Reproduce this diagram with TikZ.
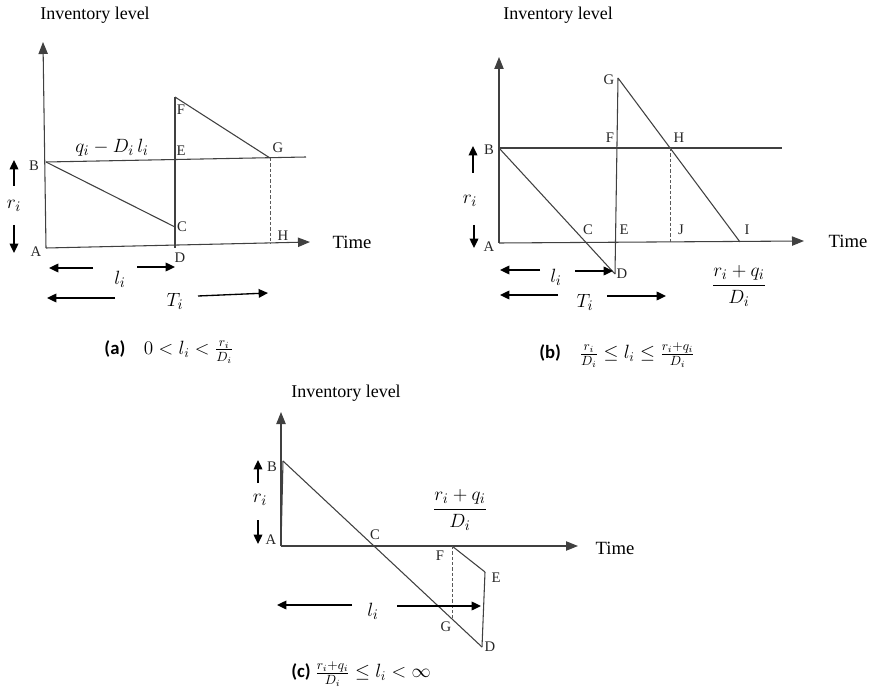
\documentclass[tikz,border=0pt]{standalone}
\usepackage{amsmath}
\usepackage{fontspec}
\setmainfont{Liberation Serif}
\newfontfamily\capfont{Carlito}
\usetikzlibrary{arrows.meta}
\begin{document}
\begin{tikzpicture}[x=0.75pt,y=-0.75pt,
  ln/.style={draw=black!75, line width=0.8pt},
  ax/.style={ln, -{Triangle[length=9pt,width=7pt]}},
  dim/.style={draw=black, line width=1pt, -{Triangle[length=7pt,width=6.5pt]}},
  dsh/.style={draw=black!65, line width=0.6pt, dash pattern=on 2.5pt off 1.5pt},
  pt/.style={font=\fontsize{11}{12}\selectfont, inner sep=0pt, text=black!85},
  ttl/.style={font=\fontsize{13.5}{15}\selectfont, inner sep=0pt},
  tim/.style={font=\fontsize{14}{15}\selectfont, inner sep=0pt},
  mth/.style={font=\fontsize{15}{17}\selectfont, inner sep=0pt},
  captext/.style={font=\fontsize{14}{16}\selectfont, inner sep=0pt}]
\useasboundingbox (0,0) rectangle (874,695);

% ================= panel (a) =================
\coordinate (aA) at (46,248);
\coordinate (aY) at (43,42);
\coordinate (aT) at (310,242);
\coordinate (aB) at (46,162);
\coordinate (aBe) at (306,157);
\coordinate (aC) at (175,227);
\coordinate (aD) at (175,248);
\coordinate (aF) at (175,97);
\coordinate (aG) at (270,158);
\coordinate (aH) at (270,244);
\draw[ax] (aA) -- (aY);
\draw[ax] (aA) -- (aT);
\draw[ln] (aB) -- (aBe);
\draw[ln] (aB) -- (aC);
\draw[ln] (aD) -- (aF);
\draw[ln] (aF) -- (aG);
\draw[dsh] (aG) -- (aH);
\node[ttl] (aTitle) at (95,15) {Inventory level};
\node[tim] (aTime) at (352,242) {Time};
\node[pt] (aLA) at (36,252) {A};
\node[pt] (aLB) at (34,166) {B};
\node[pt] (aLC) at (182,227) {C};
\node[pt] (aLD) at (180,258) {D};
\node[pt] (aLE) at (181,151) {E};
\node[pt] (aLF) at (181,110) {F};
\node[pt] (aLG) at (278,148) {G};
\node[pt] (aLH) at (283,236) {H};
\node[mth] (aQ) at (112,148) {$q_i - D_i\, l_i$};
% r_i
\coordinate (ar1) at (14,186); \coordinate (ar2) at (14,160);
\coordinate (ar3) at (14,225); \coordinate (ar4) at (14,253);
\draw[dim] (ar1) -- (ar2);
\draw[dim] (ar3) -- (ar4);
\node[mth] (aR) at (14,206) {$r_i$};
% l_i
\coordinate (al1) at (93,268); \coordinate (al2) at (49,268);
\coordinate (al3) at (137,267); \coordinate (al4) at (175,267);
\draw[dim] (al1) -- (al2);
\draw[dim] (al3) -- (al4);
\node[mth] (aL) at (120,279) {$l_i$};
% T_i
\coordinate (at1) at (115,298); \coordinate (at2) at (47,298);
\coordinate (at3) at (198,296); \coordinate (at4) at (268,293);
\draw[dim] (at1) -- (at2);
\draw[dim] (at3) -- (at4);
\node[mth] (aTi) at (175,301) {$T_i$};
\node[captext] (aCap) at (169,352) {{\capfont\bfseries (a)}\quad $0 < l_i < \frac{r_i}{D_i}$};

% ================= panel (b) =================
\coordinate (bA) at (499,243);
\coordinate (bY) at (499,57);
\coordinate (bT) at (804,241);
\coordinate (bB) at (499,148);
\coordinate (bBe) at (782,148);
\coordinate (bD) at (615,274);
\coordinate (bG) at (618,78);
\coordinate (bI) at (740,242);
\coordinate (bH) at (670,148);
\coordinate (bJ) at (670,243);
\draw[ax] (bA) -- (bY);
\draw[ax] (bA) -- (bT);
\draw[ln] (bB) -- (bBe);
\draw[ln] (bB) -- (bD);
\draw[ln] (bD) -- (bG);
\draw[ln] (bG) -- (bI);
\draw[dsh] (bH) -- (bJ);
\node[ttl] (bTitle) at (558,15) {Inventory level};
\node[tim] (bTime) at (848,241) {Time};
\node[pt] (bLA) at (489,247) {A};
\node[pt] (bLB) at (489,150) {B};
\node[pt] (bLC) at (588,230) {C};
\node[pt] (bLD) at (622,274) {D};
\node[pt] (bLE) at (624,230) {E};
\node[pt] (bLF) at (610,138) {F};
\node[pt] (bLG) at (609,80) {G};
\node[pt] (bLH) at (679,138) {H};
\node[pt] (bLI) at (747,230) {I};
\node[pt] (bLJ) at (681,230) {J};
\node[mth] (bFr) at (739,286) {$\dfrac{r_i + q_i}{D_i}$};
\coordinate (br1) at (473,173); \coordinate (br2) at (473,146);
\coordinate (br3) at (474,225); \coordinate (br4) at (474,248);
\draw[dim] (br1) -- (br2);
\draw[dim] (br3) -- (br4);
\node[mth] (bR) at (470,201) {$r_i$};
\coordinate (bl1) at (540,270); \coordinate (bl2) at (500,270);
\coordinate (bl3) at (575,271); \coordinate (bl4) at (613,271);
\draw[dim] (bl1) -- (bl2);
\draw[dim] (bl3) -- (bl4);
\node[mth] (bL) at (556,277) {$l_i$};
\coordinate (bt1) at (558,295); \coordinate (bt2) at (500,295);
\coordinate (bt3) at (607,296); \coordinate (bt4) at (666,296);
\draw[dim] (bt1) -- (bt2);
\draw[dim] (bt3) -- (bt4);
\node[mth] (bTi) at (585,302) {$T_i$};
\node[captext] (bCap) at (617,355) {{\capfont\bfseries (b)}\quad $\frac{r_i}{D_i} \le l_i \le \frac{r_i + q_i}{D_i}$};

% ================= panel (c) =================
\coordinate (cA) at (281,546);
\coordinate (cY) at (281,412);
\coordinate (cT) at (578,546);
\coordinate (cB) at (283,461);
\coordinate (cD) at (482,647);
\coordinate (cF) at (452,546);
\coordinate (cE) at (485,572);
\coordinate (cG) at (452,618);
\draw[ax] (cA) -- (cY);
\draw[ax] (cA) -- (cT);
\draw[ln] (cA) -- (cB);
\draw[ln] (cB) -- (cD);
\draw[ln] (cF) -- (cE);
\draw[ln] (cE) -- (cD);
\draw[dsh] (cF) -- (cG);
\node[ttl] (cTitle) at (346,393) {Inventory level};
\node[tim] (cTime) at (615,548) {Time};
\node[pt] (cLA) at (271,540) {A};
\node[pt] (cLB) at (272,467) {B};
\node[pt] (cLC) at (375,535) {C};
\node[pt] (cLD) at (490,647) {D};
\node[pt] (cLE) at (496,578) {E};
\node[pt] (cLF) at (440,556) {F};
\node[pt] (cLG) at (446,627) {G};
\node[mth] (cFr) at (460,510) {$\dfrac{r_i + q_i}{D_i}$};
\coordinate (cr1) at (258,483); \coordinate (cr2) at (258,460);
\coordinate (cr3) at (258,520); \coordinate (cr4) at (258,544);
\draw[dim] (cr1) -- (cr2);
\draw[dim] (cr3) -- (cr4);
\node[mth] (cR) at (260,500) {$r_i$};
\coordinate (cl1) at (352,605); \coordinate (cl2) at (277,605);
\coordinate (cl3) at (397,606); \coordinate (cl4) at (481,606);
\draw[dim] (cl1) -- (cl2);
\draw[dim] (cl3) -- (cl4);
\node[mth] (cL) at (373,611) {$l_i$};
\node[captext] (cCap) at (361,674) {{\capfont\bfseries (c)} $\frac{r_i + q_i}{D_i} \le l_i < \infty$};
\end{tikzpicture}
\end{document}
